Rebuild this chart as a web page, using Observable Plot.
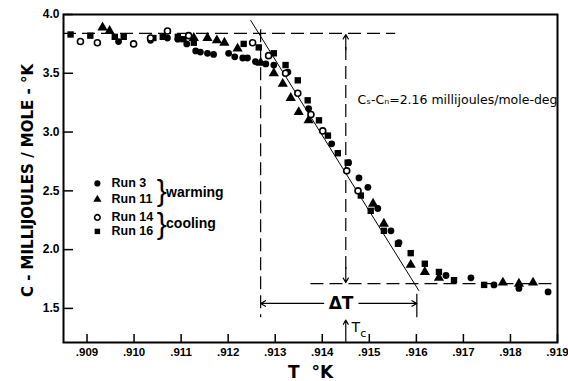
<!DOCTYPE html>
<html><head><meta charset="utf-8">
<script src="https://cdn.jsdelivr.net/npm/d3@7"></script>
<script src="https://cdn.jsdelivr.net/npm/@observablehq/plot@0.6"></script>
<style>body{margin:0;background:#fff}#chart{width:568px;height:381px}</style>
</head><body><div id="chart"></div>
<script>
// [T (K), C (millijoules/mole-K)]
const run3 = [[0.90967,3.77],[0.91035,3.78],[0.91071,3.80],[0.91093,3.79],[0.91112,3.75],[0.91131,3.69],[0.91141,3.68],[0.91156,3.67],[0.91169,3.66],[0.91201,3.67],[0.91214,3.64],[0.91231,3.63],[0.91241,3.63],[0.91258,3.60],[0.91280,3.58],[0.91297,3.57],[0.91327,3.51],[0.91371,3.20],[0.91420,2.90],[0.91456,2.74],[0.91478,2.61],[0.91497,2.53],[0.91518,2.35],[0.91546,2.16],[0.91563,2.06],[0.91663,1.78],[0.91716,1.76],[0.91765,1.70],[0.91818,1.67],[0.91880,1.64]];
const run11 = [[0.90933,3.89],[0.90948,3.86],[0.91127,3.80],[0.91156,3.80],[0.91176,3.78],[0.91192,3.76],[0.91220,3.71],[0.91269,3.59],[0.91297,3.50],[0.91316,3.41],[0.91333,3.29],[0.91350,3.17],[0.91371,3.10],[0.91508,2.39],[0.91531,2.22],[0.91588,1.87],[0.91618,1.81],[0.91648,1.76],[0.91784,1.72],[0.91818,1.71],[0.91848,1.72]];
const run14 = [[0.90886,3.77],[0.90922,3.76],[0.90999,3.75],[0.91035,3.80],[0.91071,3.86],[0.91116,3.82],[0.91252,3.76],[0.91286,3.65],[0.91322,3.50],[0.91348,3.33],[0.91376,3.15],[0.91401,3.01],[0.91452,2.67],[0.91476,2.50]];
const run16 = [[0.90865,3.83],[0.90907,3.82],[0.90959,3.81],[0.90978,3.81],[0.91041,3.80],[0.91061,3.81],[0.91093,3.81],[0.91105,3.79],[0.91127,3.76],[0.91233,3.75],[0.91265,3.72],[0.91297,3.67],[0.91322,3.57],[0.91348,3.44],[0.91369,3.27],[0.91393,3.10],[0.91412,2.97],[0.91433,2.82],[0.91454,2.74],[0.91482,2.46],[0.91503,2.33],[0.91531,2.16],[0.91561,2.05],[0.91588,1.97],[0.91618,1.88],[0.91648,1.81],[0.91680,1.74],[0.91744,1.70]];

const xTicks = [0.909,0.910,0.911,0.912,0.913,0.914,0.915,0.916,0.917,0.918,0.919];
const yTicks = [1.5,2.0,2.5,3.0,3.5,4.0];
const legendLabels = ["Run 3","Run 11","Run 14","Run 16"];
const legendGroups = ["warming","cooling"];

// annotation values (K and mJ/mole-K)
const cNormalPlateau = 3.84;   // upper dashed level
const cSuperPlateau = 1.71;    // lower dashed level
const tC = 0.9145;
const deltaT = [0.91269, 0.91601];
const transitionLine = [[0.91248,3.949],[0.91605,1.653]];
const deltaCLabel = "Cₛ-Cₙ=2.16 millijoules/mole-deg";

const F = "DejaVu Sans, Liberation Sans, sans-serif";
const FN = "Liberation Sans, Arial, sans-serif";
const xDom = [0.9085, 0.919], yDom = [1.21, 4.0];
const dash = "13,6";
const P = (t) => t.map(([x,y]) => ({x,y}));

const legendX = 0.90922, legendTextX = 0.90952;
const legendY = [2.563, 2.427, 2.274, 2.155];
const legendSym = ["circle","triangle","circle","square"];
const legendFill = ["black","black","white","black"];

const chart = Plot.plot({
  width: 568, height: 381,
  marginLeft: 63, marginRight: 11, marginTop: 14, marginBottom: 39,
  x: {domain: xDom}, y: {domain: yDom},
  style: {fontFamily: F, background: "white"},
  marks: [
    Plot.axisY(yTicks, {tickSize: -10, tickPadding: 14, tickFormat: d3.format(".1f"), fontSize: 12, fontWeight: "bold", fontFamily: FN, label: null, strokeWidth: 1.5}),
    Plot.axisX(xTicks, {tickSize: -8, tickPadding: 13, tickFormat: d => d3.format(".3f")(d).replace(/^0/, ""), fontSize: 11.5, fontWeight: "bold", fontFamily: FN, label: null, strokeWidth: 1.5}),
    // dashed guide lines
    Plot.ruleY([cNormalPlateau], {x1: xDom[0], x2: 0.91556, strokeDasharray: dash, strokeWidth: 1.2}),
    Plot.ruleY([cSuperPlateau], {x1: 0.91376, x2: xDom[1], strokeDasharray: dash, strokeWidth: 1.2}),
    Plot.ruleX([deltaT[0]], {y1: 3.87, y2: 1.42, strokeDasharray: dash, strokeWidth: 1.2}),
    Plot.ruleX([deltaT[1]], {y1: 1.62, y2: 1.42, strokeWidth: 1.2}),
    Plot.ruleX([tC], {y1: 3.72, y2: 1.83, strokeDasharray: dash, strokeWidth: 1.2}),
    Plot.arrow([0], {x1: tC, x2: tC, y1: 3.70, y2: cNormalPlateau - 0.01, headLength: 7, strokeWidth: 1.2, bend: 0}),
    Plot.arrow([0], {x1: tC, x2: tC, y1: 1.85, y2: cSuperPlateau + 0.01, headLength: 7, strokeWidth: 1.2, bend: 0}),
    Plot.line(P(transitionLine), {x: "x", y: "y", strokeWidth: 1}),
    // delta T arrows
    Plot.arrow([0], {x1: 0.91403, x2: deltaT[0], y1: 1.542, y2: 1.542, headLength: 7, strokeWidth: 1.2}),
    Plot.arrow([0], {x1: 0.91478, x2: deltaT[1], y1: 1.542, y2: 1.542, headLength: 7, strokeWidth: 1.2}),
    Plot.text(["ΔT"], {x: 0.91440, y: 1.542, fontSize: 17, fontWeight: "bold"}),
    // Tc arrow
    Plot.arrow([0], {x1: tC, x2: tC, y1: yDom[0], y2: 1.40, headLength: 6, strokeWidth: 1.2}),
    Plot.text(["T"], {x: 0.91462, y: 1.34, fontSize: 14, textAnchor: "start"}),
    Plot.text(["c"], {x: 0.91481, y: 1.285, fontSize: 11, textAnchor: "start"}),
    Plot.text([deltaCLabel], {x: 0.91475, y: 3.27, fontSize: 12.5, textAnchor: "start"}),
    // data
    Plot.dot(P(run16), {x: "x", y: "y", symbol: "square", r: 3.6, fill: "black"}),
    Plot.dot(P(run3), {x: "x", y: "y", symbol: "circle", r: 3.4, fill: "black"}),
    Plot.dot(P(run11), {x: "x", y: "y", symbol: "triangle", r: 3.8, fill: "black"}),
    Plot.dot(P(run14), {x: "x", y: "y", symbol: "circle", r: 3, fill: "white", stroke: "black", strokeWidth: 1.6}),
    // legend
    Plot.dot(legendLabels, {x: legendX, y: (d,i) => legendY[i], symbol: (d,i) => legendSym[i], fill: (d,i) => legendFill[i], stroke: "black", strokeWidth: (d,i) => i === 2 ? 1.6 : 0, r: (d,i) => i === 2 ? 2.6 : 3.2}),
    Plot.text(legendLabels, {x: legendTextX, y: (d,i) => legendY[i], text: d => d, textAnchor: "start", fontSize: 12.5, fontWeight: "bold", fontFamily: FN}),
    Plot.text(["}", "}"], {x: 0.91048, y: (d,i) => i ? 2.215 : 2.495, fontSize: 30, textAnchor: "start", fontWeight: "normal", fontFamily: FN}),
    Plot.text(legendGroups, {x: 0.91068, y: (d,i) => i ? 2.223 : 2.486, text: d => d, textAnchor: "start", fontSize: 14, fontWeight: "bold", fontFamily: FN}),
    // axis titles
    Plot.text(["C - MILLIJOULES / MOLE - °K"], {frameAnchor: "left", textAnchor: "middle", lineAnchor: "middle", rotate: -90, dx: -35, dy: 2, fontSize: 15, fontWeight: "bold"}),
    Plot.text(["T  °K"], {frameAnchor: "bottom", lineAnchor: "middle", dy: 30, fontSize: 17, fontWeight: "bold"}),
    Plot.frame({strokeWidth: 2})
  ]
});
document.getElementById("chart").append(chart);
</script></body></html>
